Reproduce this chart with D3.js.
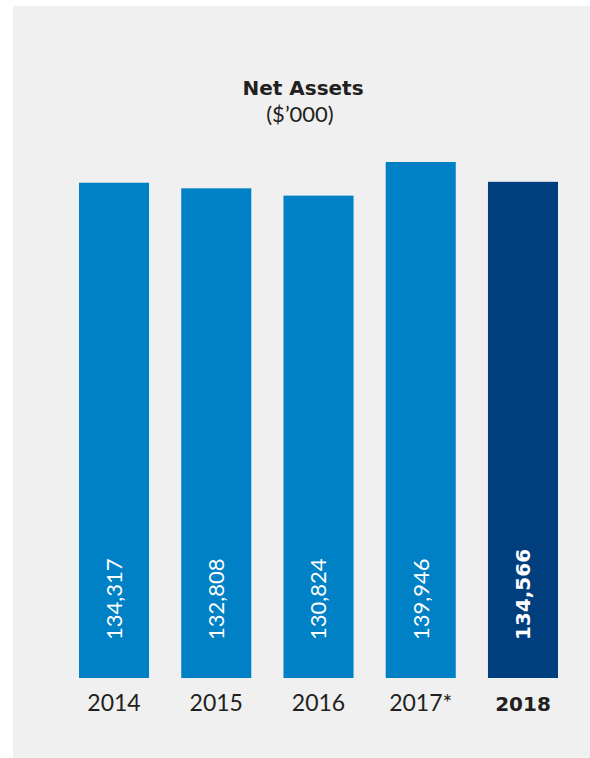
<!DOCTYPE html>
<html>
<head>
<meta charset="utf-8">
<script src="https://cdn.jsdelivr.net/npm/d3@7"></script>
<style>
  html, body { margin: 0; padding: 0; background: #ffffff; }
</style>
</head>
<body>
<svg id="chart"></svg>
<script>
const years = ["2014", "2015", "2016", "2017*", "2018"];
const netAssets = [134317, 132808, 130824, 139946, 134566];
const valueLabels = ["134,317", "132,808", "130,824", "139,946", "134,566"];
const highlightYear = "2018";

const data = years.map((y, i) => ({ year: y, value: netAssets[i], label: valueLabels[i] }));

const W = 590, H = 758;
const svg = d3.select("#chart")
    .attr("width", W)
    .attr("height", H);

// grey panel behind everything
svg.append("rect")
    .attr("x", 13)
    .attr("y", 6)
    .attr("width", W - 13)
    .attr("height", H - 6)
    .attr("fill", "#eff0ef");

// title
svg.append("text")
    .attr("x", 303)
    .attr("y", 95)
    .attr("text-anchor", "middle")
    .style("font-family", "'DejaVu Sans', sans-serif")
    .style("font-weight", "bold")
    .style("font-size", "20px")
    .attr("fill", "#231f20")
    .text("Net Assets");

svg.append("text")
    .attr("x", 300)
    .attr("y", 122)
    .attr("text-anchor", "middle")
    .style("font-family", "Lato, sans-serif")
    .style("font-size", "22px")
    .attr("fill", "#231f20")
    .text("($\u2019000)");

// scales
const x = d3.scaleBand()
    .domain(years)
    .range([79, 558])
    .paddingInner(0.315)
    .paddingOuter(0);

const y = d3.scaleLinear()
    .domain([0, d3.max(netAssets)])
    .range([678, 162]);

const isHi = d => d.year === highlightYear;

// bars
svg.append("g")
    .selectAll("rect")
    .data(data)
    .join("rect")
    .attr("x", d => x(d.year))
    .attr("y", d => y(d.value))
    .attr("width", x.bandwidth())
    .attr("height", d => y(0) - y(d.value))
    .attr("fill", d => isHi(d) ? "#003e7e" : "#0081c5");

// value labels inside bars, rotated
svg.append("g")
    .selectAll("text")
    .data(data)
    .join("text")
    .attr("transform", d => `translate(${x(d.year) + x.bandwidth() / 2},${y(0) - 38}) rotate(-90)`)
    .attr("dy", "0.36em")
    .attr("text-anchor", "start")
    .style("font-family", d => isHi(d) ? "'DejaVu Sans', sans-serif" : "Lato, sans-serif")
    .style("font-weight", d => isHi(d) ? "bold" : "normal")
    .style("font-size", d => isHi(d) ? "20px" : "22px")
    .attr("fill", "#ffffff")
    .text(d => d.label);

// category axis labels
svg.append("g")
    .selectAll("text")
    .data(data)
    .join("text")
    .attr("x", d => x(d.year) + x.bandwidth() / 2)
    .attr("y", 711)
    .attr("text-anchor", "middle")
    .style("font-family", d => isHi(d) ? "'DejaVu Sans', sans-serif" : "Lato, sans-serif")
    .style("font-weight", d => isHi(d) ? "bold" : "normal")
    .style("font-size", d => isHi(d) ? "20px" : "23px")
    .attr("fill", "#231f20")
    .text(d => d.year);
</script>
</body>
</html>
